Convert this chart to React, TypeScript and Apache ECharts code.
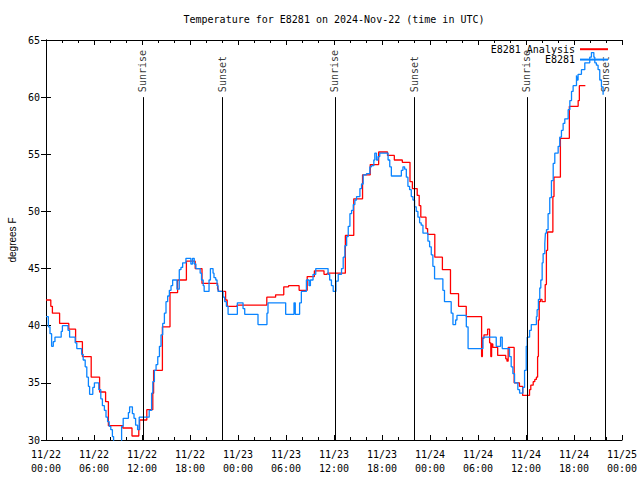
import React, { useEffect, useRef } from 'react';
import * as echarts from 'echarts';

// Hours since 2024-11-22 00:00 UTC
const dayLabels = ['11/22', '11/23', '11/24', '11/25'];

const analysisTemps: [number, number][] = [
  [0, 42.25], [0.6, 41.7], [0.8, 41.1], [1.7, 40.2], [2.85, 39.7], [3.7, 38.6],
  [4.55, 37.3], [5.65, 35.5], [6.7, 34.2], [7.45, 33.35], [7.8, 31.25], [9.6, 31.05],
  [10.75, 30.35], [11.6, 30.9], [11.7, 31.75], [12.6, 32.65], [13.35, 34.1], [13.45, 36.1],
  [14.55, 39.9], [15.5, 42.9], [16.45, 44.0], [17.55, 45.65], [18.65, 45.0], [19.5, 43.7],
  [21.45, 43.2], [21.55, 43.0], [22.45, 42.25], [22.65, 41.7], [23.88, 41.8], [27.6, 42.5],
  [28.7, 42.7], [29.72, 43.4], [30.32, 43.5], [31.64, 43.1], [32.65, 44.3], [33.55, 44.8],
  [34.75, 44.5], [35.15, 44.6], [37.42, 47.9], [38.47, 51.1], [39.57, 53.2], [40.53, 54.1],
  [41.58, 55.2], [42.69, 54.9], [43.54, 54.5], [44.54, 54.3], [45.5, 52.6], [45.8, 52.0],
  [46.4, 51.4], [46.65, 50.5], [46.85, 49.5], [47.5, 48.5], [47.7, 48.0], [48.6, 46.0],
  [49.55, 44.9], [50.56, 42.8], [51.57, 41.7], [52.53, 40.8], [54.45, 37.3], [54.55, 38.9],
  [54.75, 39.2], [55.2, 39.7], [55.45, 38.5], [55.6, 37.3], [55.7, 38.4], [55.85, 38.1],
  [56.46, 37.4], [57.47, 37.1], [57.62, 36.9], [57.77, 38.1], [58.52, 35.0], [59.18, 34.7],
  [59.58, 33.9], [60.44, 34.4], [60.6, 34.8], [60.9, 35.1], [61.1, 35.3], [61.3, 35.5],
  [61.45, 37.3], [61.55, 40.5], [61.65, 42.1], [61.8, 42.3], [62.0, 42.1], [62.4, 43.6],
  [62.55, 46.6], [62.7, 48.2], [63.36, 51.3], [63.5, 53.0], [64.3, 56.4], [65.42, 59.2],
  [66.52, 59.7], [66.67, 61.0], [67.42, 61.0],
];

const observedTemps: [number, number][] = [
  [0, 40.8], [0.29, 39.9], [0.5, 39.3], [0.7, 38.2], [0.91, 38.6], [1.12, 39.0],
  [1.9, 39.5], [2.05, 40.0], [2.75, 39.6], [2.95, 39.0], [3.65, 38.5], [3.85, 38.0],
  [4.45, 37.5], [4.65, 37.0], [4.9, 36.4], [5.1, 35.5], [5.3, 34.7], [5.45, 34.0],
  [5.85, 34.6], [6.05, 35.0], [6.6, 34.4], [6.85, 33.6], [7.05, 33.0], [7.3, 32.6],
  [7.5, 32.0], [7.7, 31.6], [7.9, 31.2], [8.1, 30.9], [8.3, 30.3], [8.45, 29.3],
  [9.45, 31.2], [9.65, 31.9], [10.3, 32.4], [10.45, 32.9], [10.8, 32.3], [11.0, 31.9],
  [11.2, 31.3], [11.45, 30.9], [11.65, 32.0], [12.9, 32.6], [13.2, 34.1], [13.35, 35.1],
  [13.55, 36.1], [13.76, 36.6], [13.97, 37.3], [14.18, 38.2], [14.38, 39.2], [14.59, 40.2],
  [14.8, 41.1], [15.0, 42.1], [15.21, 42.6], [15.42, 43.1], [15.63, 43.5], [15.83, 44.0],
  [16.37, 43.2], [16.66, 44.9], [16.87, 45.1], [17.08, 45.5], [17.49, 45.9], [18.11, 45.4],
  [18.32, 45.9], [18.53, 45.4], [18.74, 45.0], [19.27, 44.6], [19.44, 44.0], [19.65, 43.5],
  [19.77, 43.0], [20.38, 44.0], [20.55, 45.0], [20.88, 44.6], [21.0, 44.2], [21.22, 44.0],
  [21.38, 43.5], [21.51, 43.0], [22.13, 42.5], [22.34, 42.1], [22.55, 41.7], [22.76, 41.0],
  [23.92, 42.0], [24.63, 41.5], [24.84, 41.0], [26.5, 40.1], [27.62, 41.1], [27.75, 42.0],
  [29.96, 41.0], [31.0, 42.0], [31.16, 41.0], [31.7, 42.0], [31.92, 43.0], [32.55, 44.0],
  [32.88, 43.5], [33.05, 44.0], [33.38, 44.5], [33.72, 45.0], [35.26, 44.5], [35.46, 44.0],
  [35.68, 43.5], [35.9, 43.0], [36.24, 43.9], [36.53, 44.5], [36.94, 45.0], [37.15, 46.0],
  [37.36, 47.0], [37.58, 47.8], [37.78, 48.7], [37.99, 49.8], [38.2, 50.1], [38.41, 50.6],
  [38.61, 51.0], [38.82, 51.3], [39.24, 52.0], [39.44, 52.4], [39.65, 53.2], [40.06, 53.3],
  [40.48, 53.9], [40.69, 54.0], [40.98, 54.5], [41.1, 55.1], [41.31, 54.5], [41.51, 54.8],
  [41.72, 55.1], [42.76, 54.5], [42.97, 53.9], [43.17, 53.1], [44.42, 53.6], [44.62, 53.9],
  [44.83, 53.7], [45.04, 53.0], [45.24, 52.2], [45.45, 51.9], [45.66, 51.3], [45.87, 51.0],
  [46.07, 50.4], [46.28, 50.0], [46.49, 49.5], [46.7, 49.0], [46.9, 48.8], [47.12, 48.1],
  [47.74, 47.4], [47.95, 46.9], [48.16, 46.2], [48.36, 45.2], [48.57, 44.1], [49.61, 43.1],
  [49.81, 42.1], [50.65, 41.1], [50.87, 40.1], [51.2, 40.5], [51.37, 40.9], [52.54, 39.9],
  [52.76, 38.0], [54.62, 39.0], [56.28, 38.2], [56.82, 39.0], [57.03, 38.0], [57.94, 37.3],
  [58.15, 36.4], [58.36, 35.8], [58.57, 35.0], [58.98, 34.4], [59.2, 34.1], [59.61, 34.6],
  [59.82, 36.1], [60.03, 38.2], [60.15, 39.0], [60.45, 39.6], [60.66, 40.1], [61.3, 40.8],
  [61.39, 41.4], [61.55, 42.3], [61.72, 43.3], [61.85, 44.0], [62.02, 45.5], [62.14, 46.3],
  [62.35, 47.2], [62.43, 48.1], [62.56, 48.4], [62.76, 49.8], [62.97, 51.2], [63.18, 52.7],
  [63.4, 54.2], [63.6, 55.1], [64.02, 55.7], [64.22, 56.5], [64.43, 57.1], [64.64, 57.7],
  [64.85, 58.1], [65.27, 58.9], [65.48, 59.7], [65.69, 60.5], [65.89, 61.0], [66.31, 61.9],
  [66.39, 61.5], [66.51, 62.0], [66.93, 62.4], [67.35, 63.0], [67.97, 63.5], [68.18, 63.9],
  [68.48, 63.5], [68.6, 63.0], [68.8, 62.8], [69.01, 62.4], [69.22, 61.5], [69.43, 60.9],
  [69.64, 60.2],
];

const sunHours = [12.12, 22.0, 36.12, 46.0, 60.12, 69.9];
const sunNames = ['Sunrise', 'Sunset', 'Sunrise', 'Sunset', 'Sunrise', 'Sunset'];
const sunLineBottom = 30;
const sunLineTop = 60;

const MONO = '"DejaVu Sans Mono", "Liberation Mono", monospace';
const SANS = '"Liberation Sans", "DejaVu Sans", sans-serif';

export default function App() {
  const ref = useRef<HTMLDivElement>(null);

  useEffect(() => {
    if (!ref.current) return;
    const chart = echarts.init(ref.current, null, { renderer: 'svg' });

    const xLabel = (v: number) => {
      const d = Math.floor(v / 24 + 1e-9);
      const hh = Math.round(v - d * 24);
      return `${dayLabels[d]}\n${String(hh).padStart(2, '0')}:00`;
    };

    const baseX = {
      type: 'value',
      min: 0,
      max: 72,
      interval: 6,
      axisLine: { show: true, lineStyle: { color: '#000', width: 1 } },
      axisTick: { show: true, inside: true, length: 5, lineStyle: { color: '#000', width: 1 } },
      minorTick: { show: true, splitNumber: 3, length: 3, lineStyle: { color: '#000', width: 1 } },
      splitLine: { show: false },
      minorSplitLine: { show: false },
    };
    const baseY = {
      type: 'value',
      min: 30,
      max: 65,
      interval: 5,
      axisLine: { show: true, lineStyle: { color: '#000', width: 1 } },
      axisTick: { show: true, inside: true, length: 5, lineStyle: { color: '#000', width: 1 } },
      splitLine: { show: false },
    };

    const option: any = {
      animation: false,
      backgroundColor: '#fff',
      title: {
        text: 'Temperature for E8281 on 2024-Nov-22 (time in UTC)',
        left: 334,
        top: 14,
        textAlign: 'center',
        padding: 0,
        textStyle: { fontFamily: MONO, fontSize: 10, fontWeight: 'normal', color: '#000' },
      },
      legend: {
        data: ['E8281 Analysis', 'E8281'],
        orient: 'vertical',
        right: 31,
        top: 44,
        align: 'right',
        itemWidth: 28,
        itemHeight: 13,
        itemGap: 0,
        padding: 0,
        selectedMode: false,
        itemStyle: { opacity: 0, borderWidth: 0 },
        textStyle: { fontFamily: MONO, fontSize: 10, color: '#000' },
      },
      grid: {
        left: 46,
        right: 18,
        top: 40,
        bottom: 40,
        containLabel: false,
        outerBoundsMode: 'none',
      },
      xAxis: [
        {
          ...baseX,
          position: 'bottom',
          axisLabel: {
            show: true,
            formatter: xLabel,
            fontFamily: MONO,
            fontSize: 10,
            color: '#000',
            lineHeight: 14,
            margin: 7,
            showMinLabel: true,
            showMaxLabel: true,
          },
        },
        { ...baseX, position: 'top', axisLabel: { show: false } },
      ],
      yAxis: [
        {
          ...baseY,
          position: 'left',
          name: 'degrees F',
          nameLocation: 'middle',
          nameGap: 29,
          nameTextStyle: { fontFamily: SANS, fontSize: 10, color: '#000' },
          axisLabel: { fontFamily: MONO, fontSize: 10, color: '#000', margin: 6 },
        },
        { ...baseY, position: 'right', axisLabel: { show: false } },
      ],
      series: [
        {
          name: 'sun',
          type: 'scatter',
          xAxisIndex: 0,
          yAxisIndex: 0,
          symbolSize: 0,
          silent: true,
          data: sunHours.map((h, i) => [h, sunLineTop, sunNames[i]]),
          label: {
            show: true,
            position: 'top',
            distance: 5,
            rotate: 90,
            align: 'left',
            verticalAlign: 'middle',
            fontFamily: MONO,
            fontSize: 10,
            color: '#000',
            formatter: (p: any) => p.data[2],
          },
          markLine: {
            silent: true,
            symbol: ['none', 'none'],
            label: { show: false },
            lineStyle: { color: '#000', width: 1, type: 'solid' },
            data: sunHours.map((h) => [{ coord: [h, sunLineBottom] }, { coord: [h, sunLineTop] }]),
          },
        },
        {
          name: 'E8281 Analysis',
          type: 'line',
          step: 'end',
          symbol: 'none',
          clip: true,
          data: analysisTemps,
          color: '#ff0000',
          lineStyle: { color: '#ff0000', width: 1.3 },
        },
        {
          name: 'E8281',
          type: 'line',
          step: 'end',
          symbol: 'none',
          clip: true,
          data: observedTemps,
          color: '#0a84ff',
          lineStyle: { color: '#0a84ff', width: 1.3 },
        },
      ],
    };

    chart.setOption(option);
    return () => chart.dispose();
  }, []);

  return (
    <div
      ref={ref}
      style={{ position: 'absolute', left: 0, top: 0, width: 640, height: 480, background: '#fff' }}
    />
  );
}
